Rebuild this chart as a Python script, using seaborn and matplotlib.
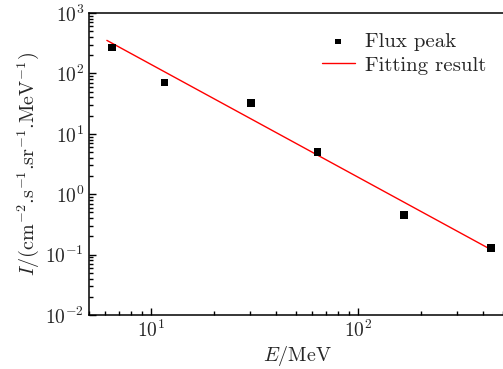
import numpy as np
import pandas as pd
import seaborn as sns
import matplotlib.pyplot as plt

# measured flux peaks
energy = [6.45, 11.6, 30.4, 63.5, 166, 437]
flux = [270, 71, 32, 5.0, 0.45, 0.128]

# fitted power law, read at its two ends
fit_energy = [6.1, 454]
fit_flux = [352, 0.113]

sns.set_style('ticks')
plt.rcParams['font.family'] = 'serif'
plt.rcParams['font.serif'] = ['cmr10']
plt.rcParams['mathtext.fontset'] = 'cm'
plt.rcParams['axes.formatter.use_mathtext'] = True
plt.rcParams['axes.unicode_minus'] = True

df = pd.DataFrame({'E': energy, 'I': flux})
fit = pd.DataFrame({'E': fit_energy, 'I': fit_flux})

fig = plt.figure(figsize=(5.03, 3.69), dpi=100)
ax = fig.add_axes([89 / 503, 54 / 369, 417.5 / 503, 302 / 369])

sns.scatterplot(data=df, x='E', y='I', marker='s', color='black', s=30,
                edgecolor='none', label='Flux peak', ax=ax, zorder=3)
sns.lineplot(data=fit, x='E', y='I', color='red', linewidth=1.0,
             label='Fitting result', ax=ax)

ax.set_xscale('log')
ax.set_yscale('log')
ax.set_xlim(5, 520)
ax.set_ylim(1e-2, 1e3)
ax.set_yticks([1e-2, 1e-1, 1e0, 1e1, 1e2, 1e3])

ax.tick_params(which='both', direction='in', top=False, right=False,
               labelsize=14, width=1.0, color='black')
ax.tick_params(which='major', length=5)
ax.tick_params(which='minor', length=3)
for s in ax.spines.values():
    s.set_linewidth(1.1)
    s.set_color('black')

ax.set_xlabel('$E$/MeV', fontsize=14.5, labelpad=2)
ax.set_ylabel('$I$/(cm$^{-2}$.s$^{-1}$.sr$^{-1}$.MeV$^{-1}$)', fontsize=14.5,
              labelpad=3)

ax.legend(loc='upper right', bbox_to_anchor=(495 / 503, 345 / 369),
          bbox_transform=fig.transFigure, frameon=False, fontsize=15,
          handlelength=1.6, handletextpad=0.5, borderaxespad=0,
          labelspacing=0.25, markerscale=0.75)

fig.savefig('out.png', dpi=100)
